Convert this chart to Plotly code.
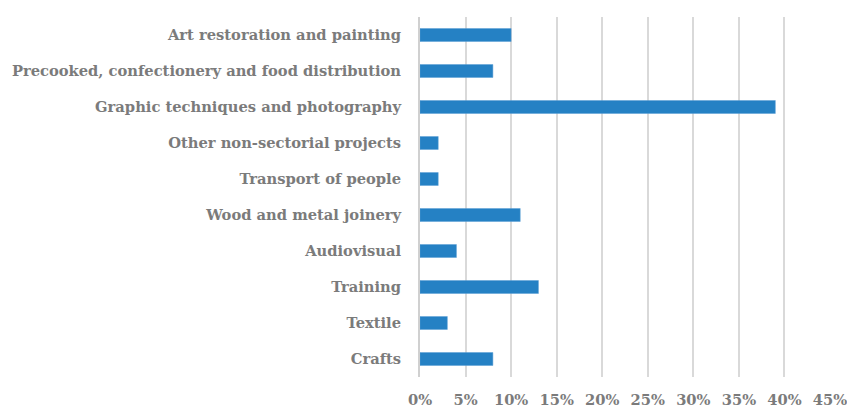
import plotly.graph_objects as go

# Share of projects by sector (bottom to top as drawn)
categories = [
    "Crafts",
    "Textile",
    "Training",
    "Audiovisual",
    "Wood and metal joinery",
    "Transport of people",
    "Other non-sectorial projects",
    "Graphic techniques and photography",
    "Precooked, confectionery and food distribution",
    "Art restoration and painting",
]
shares = [0.08, 0.03, 0.13, 0.04, 0.11, 0.02, 0.02, 0.39, 0.08, 0.10]
x_ticks = [0, 0.05, 0.10, 0.15, 0.20, 0.25, 0.30, 0.35, 0.40, 0.45]

tick_font = dict(family="DejaVu Serif", size=14.7, color="#7b7b7b", weight="bold")

fig = go.Figure(
    go.Bar(
        x=shares,
        y=categories,
        orientation="h",
        marker=dict(color="#2581c4", line=dict(color="#5a9fd4", width=0.5)),
        hoverinfo="x+y",
    )
)

fig.update_layout(
    width=847,
    height=410,
    margin=dict(l=420, r=17, t=17, b=33),
    paper_bgcolor="white",
    plot_bgcolor="white",
    bargap=0.64,
    showlegend=False,
    font=tick_font,
)

fig.update_xaxes(
    range=[0, 0.45],
    tickvals=x_ticks,
    tickformat=".0%",
    showgrid=True,
    gridcolor="#d9d9d9",
    gridwidth=1.5,
    zeroline=False,
    showline=False,
    ticks="",
    ticklabelstandoff=12,
    ticklabeloverflow="allow",
    automargin=False,
    tickfont=tick_font,
)

fig.update_yaxes(
    categoryorder="array",
    categoryarray=categories,
    range=[-0.5, 9.5],
    showgrid=False,
    zeroline=False,
    showline=True,
    linecolor="#d0d0d0",
    linewidth=2,
    ticks="",
    ticklabelstandoff=14,
    ticklabeloverflow="allow",
    automargin=False,
    tickfont=tick_font,
)

fig.write_html("out.html")
